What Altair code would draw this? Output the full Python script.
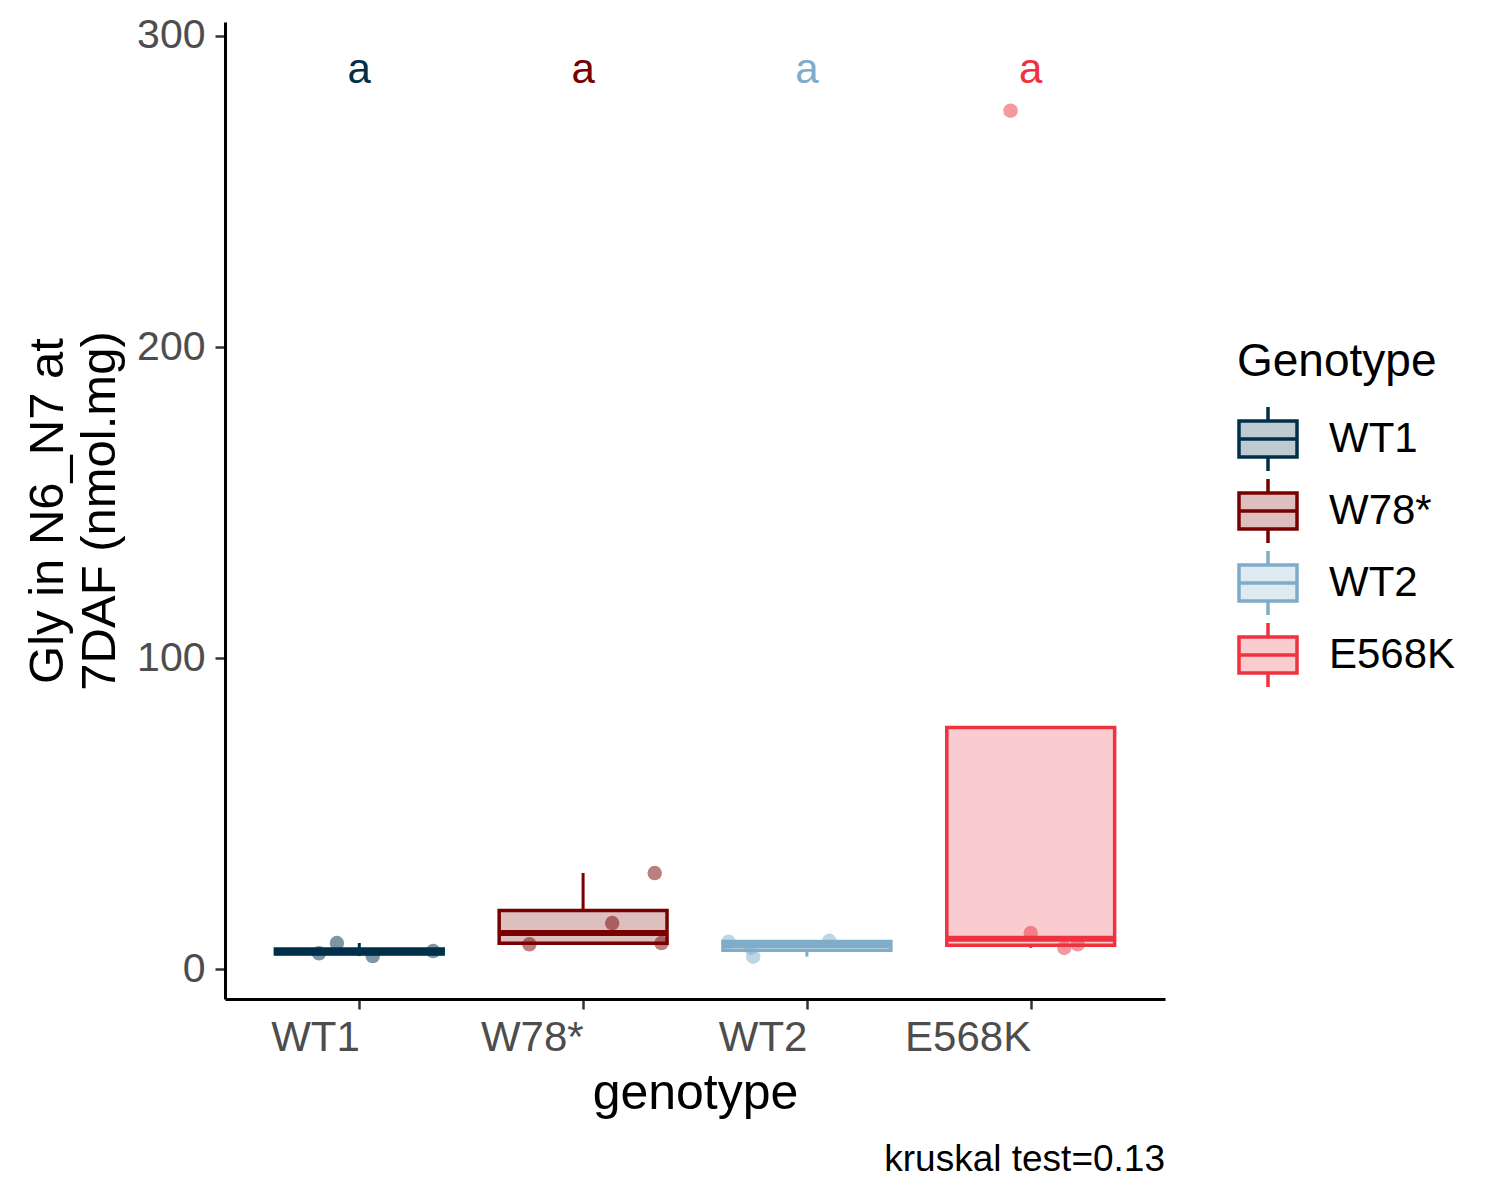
import json
import altair as alt
import numpy as np
import pandas as pd

# ---- data ----
genotypes = ["WT1", "W78*", "WT2", "E568K"]
colors = ["#003049", "#780000", "#7FADC9", "#EE323E"]
alpha_fill = 0.25  # box fill transparency in the reference

wt1_values = [5.1, 8.4, 4.2, 5.8]
w78_values = [8.0, 14.8, 30.9, 8.4]
wt2_values = [8.8, 6.8, 4.0, 9.1]
e568k_values = [276.0, 11.6, 6.8, 8.0]

# horizontal jitter of each point (in category units)
wt1_jitter = [-0.18, -0.10, 0.06, 0.33]
w78_jitter = [-0.24, 0.13, 0.32, 0.35]
wt2_jitter = [-0.35, -0.25, -0.24, 0.10]
e568k_jitter = [-0.09, 0.0, 0.15, 0.21]

letters = ["a", "a", "a", "a"]
letter_y = 289
caption = "kruskal test=0.13"
y_title = ["Gly in N6_N7 at", "7DAF (nmol.mg)"]
x_title = "genotype"
legend_title = "Genotype"

all_values = [wt1_values, w78_values, wt2_values, e568k_values]
all_jitter = [wt1_jitter, w78_jitter, wt2_jitter, e568k_jitter]


def lighten(hex_color, a):
    h = hex_color.lstrip("#")
    rgb = [int(h[k:k + 2], 16) for k in (0, 2, 4)]
    mixed = [round(a * c + (1 - a) * 255) for c in rgb]
    return "#" + "".join(f"{c:02X}" for c in mixed)


fill_colors = [lighten(c, alpha_fill) for c in colors]

# ---- boxplot statistics (ggplot style, type-7 quantiles, 1.5 IQR) ----
box_rows, pt_rows = [], []
for i, (g, vals, jit, let) in enumerate(zip(genotypes, all_values, all_jitter, letters)):
    pos = i + 1
    v = np.array(vals, dtype=float)
    q1, med, q3 = np.percentile(v, [25, 50, 75])
    iqr = q3 - q1
    inside = v[(v >= q1 - 1.5 * iqr) & (v <= q3 + 1.5 * iqr)]
    lo = min(q1, inside.min())
    hi = max(q3, inside.max())
    box_rows.append(dict(genotype=g, pos=pos, left=pos - 0.375, right=pos + 0.375,
                         q1=q1, median=med, q3=q3, lower=lo, upper=hi,
                         letter=let, ly=letter_y))
    for val, j in zip(vals, jit):
        pt_rows.append(dict(genotype=g, x=pos + j, value=val))

boxes = pd.DataFrame(box_rows)
points = pd.DataFrame(pt_rows)

FONT = "Liberation Sans"

xscale = alt.Scale(domain=[0.4, 4.6], nice=False, zero=False)
yscale = alt.Scale(domain=[-9.6, 304.5], nice=False, zero=False)
cscale = alt.Scale(domain=genotypes, range=colors)
fscale = alt.Scale(domain=genotypes, range=fill_colors)

label_expr = json.dumps(genotypes) + "[datum.value - 1]"

xaxis = alt.Axis(values=[1, 2, 3, 4], labelExpr=label_expr, title=x_title,
                 labelAlign="right", labelAngle=0, labelFontSize=42,
                 labelColor="#4D4D4D", labelPadding=8, tickSize=10, tickWidth=2.5,
                 tickColor="#333333", domainColor="black", domainWidth=3,
                 titleFontSize=50, titleColor="black", titleFontWeight="normal",
                 titlePadding=10, grid=False)
yaxis = alt.Axis(values=[0, 100, 200, 300], title=y_title,
                 labelFontSize=41, labelColor="#4D4D4D", labelPadding=10,
                 tickSize=10, tickWidth=2.5, tickColor="#333333",
                 domainColor="black", domainWidth=3, titleFontSize=49,
                 titleColor="black", titleFontWeight="normal", titleLineHeight=52,
                 titlePadding=12, grid=False)

legend_path = "M-1,-0.62L1,-0.62L1,0.62L-1,0.62Z M-1,0L1,0 M0,-0.62L0,-1.1 M0,0.62L0,1.1"
legend = alt.Legend(title=legend_title, orient="none", legendX=1012, legendY=318,
                    titleFontSize=46, titleFontWeight="normal", titleColor="black",
                    titleLimit=400, labelLimit=400,
                    labelFontSize=42, labelColor="black", symbolType=legend_path,
                    symbolSize=3364, symbolStrokeWidth=3.5, rowPadding=-6,
                    labelOffset=30, titlePadding=22)

base_pts = alt.Chart(points)
base_box = alt.Chart(boxes)

box = base_box.mark_bar(strokeWidth=3.5).encode(
    x=alt.X("left:Q", scale=xscale, axis=xaxis),
    x2="right:Q",
    y=alt.Y("q1:Q", scale=yscale, axis=yaxis),
    y2="q3:Q",
    fill=alt.Fill("genotype:N", scale=fscale, legend=legend),
    stroke=alt.Stroke("genotype:N", scale=cscale, legend=legend),
)

pts = base_pts.mark_circle(size=210, opacity=0.5).encode(
    x=alt.X("x:Q", scale=xscale),
    y=alt.Y("value:Q", scale=yscale),
    color=alt.Color("genotype:N", scale=cscale, legend=None),
)

whisk_hi = base_box.mark_rule(strokeWidth=3).encode(
    x=alt.X("pos:Q", scale=xscale),
    y=alt.Y("q3:Q", scale=yscale),
    y2="upper:Q",
    color=alt.Color("genotype:N", scale=cscale, legend=None),
)
whisk_lo = base_box.mark_rule(strokeWidth=3).encode(
    x=alt.X("pos:Q", scale=xscale),
    y=alt.Y("lower:Q", scale=yscale),
    y2="q1:Q",
    color=alt.Color("genotype:N", scale=cscale, legend=None),
)
median = base_box.mark_rule(strokeWidth=6).encode(
    x=alt.X("left:Q", scale=xscale),
    x2="right:Q",
    y=alt.Y("median:Q", scale=yscale),
    color=alt.Color("genotype:N", scale=cscale, legend=None),
)
text = base_box.mark_text(fontSize=42, baseline="middle", align="center").encode(
    x=alt.X("pos:Q", scale=xscale),
    y=alt.Y("ly:Q", scale=yscale),
    text="letter:N",
    color=alt.Color("genotype:N", scale=cscale, legend=None),
)

chart = alt.layer(box, pts, whisk_hi, whisk_lo, median, text).properties(
    width=940, height=977,
    autosize=alt.AutoSizeParams(type="none"),
    padding={"left": 217, "top": 14, "right": 320, "bottom": 198},
    title=alt.TitleParams(caption, orient="bottom", anchor="end", frame="group",
                          fontSize=37, fontWeight="normal", color="black",
                          font=FONT, offset=24),
).configure(font=FONT).configure_view(stroke=None).configure_axis(
    labelFont=FONT, titleFont=FONT
).configure_legend(labelFont=FONT, titleFont=FONT)

chart.save("out.html", embed_options={"renderer": "svg", "actions": False})
